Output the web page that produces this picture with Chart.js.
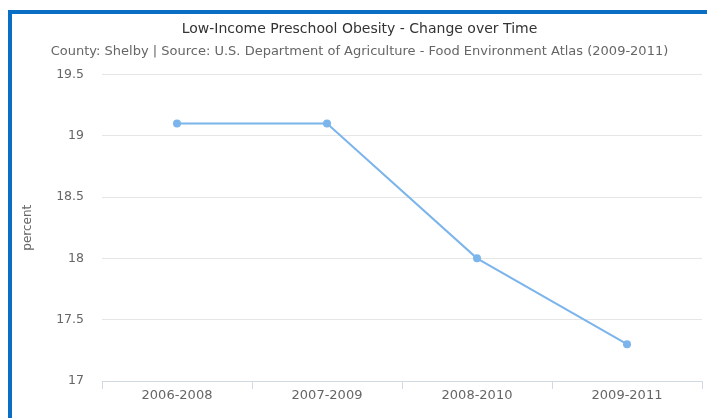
<!DOCTYPE html>
<html>
<head>
<meta charset="utf-8">
<script src="https://cdn.jsdelivr.net/npm/chart.js@4"></script>
<style>
  html, body { margin: 0; padding: 0; background: #ffffff; }
  body { width: 707px; height: 418px; position: relative; overflow: hidden; }
  #frame {
    position: absolute; left: 8px; top: 10px; width: 720px; height: 440px;
    border-left: 4px solid #0a6ec4; border-top: 4px solid #0a6ec4;
    box-sizing: border-box; pointer-events: none; z-index: 2;
  }
  #wrap { position: absolute; left: 0; top: 0; width: 707px; height: 418px; }
</style>
</head>
<body>
<div id="wrap"><canvas id="chart" width="707" height="418"></canvas></div>
<div id="frame"></div>
<script>
// Low-income preschool obesity rate by reporting period
const periods = ['2006-2008', '2007-2009', '2008-2010', '2009-2011'];
const obesityPercent = [19.1, 19.1, 18.0, 17.3];
const yTicks = [17, 17.5, 18, 18.5, 19, 19.5];

const FONT = '"DejaVu Sans", "Liberation Sans", sans-serif';

new Chart(document.getElementById('chart'), {
  type: 'line',
  data: {
    labels: periods,
    datasets: [{
      label: 'Low-Income Preschool Obesity',
      data: obesityPercent,
      borderColor: '#7cb5ec',
      backgroundColor: '#7cb5ec',
      borderWidth: 2,
      pointRadius: 4,
      pointHoverRadius: 5,
      pointBackgroundColor: '#7cb5ec',
      pointBorderWidth: 0,
      tension: 0,
      fill: false
    }]
  },
  options: {
    responsive: false,
    animation: false,
    layout: { padding: { left: 14, right: 2, top: 15, bottom: 0 } },
    plugins: {
      legend: { display: false },
      tooltip: { enabled: false },
      title: {
        display: true,
        text: 'Low-Income Preschool Obesity - Change over Time',
        color: '#333333',
        font: { family: FONT, size: 14, weight: 'normal' },
        padding: { top: 6, bottom: 5 }
      },
      subtitle: {
        display: true,
        text: 'County: Shelby | Source: U.S. Department of Agriculture - Food Environment Atlas (2009-2011)',
        color: '#666666',
        font: { family: FONT, size: 13, weight: 'normal' },
        padding: { top: 1, bottom: 15 }
      }
    },
    scales: {
      x: {
        type: 'category',
        offset: true,
        border: { display: true, color: '#d3d9e3', width: 1 },
        grid: {
          offset: true,
          drawOnChartArea: false,
          drawTicks: true,
          tickLength: 8,
          color: '#d3d9e3'
        },
        ticks: {
          color: '#666666',
          font: { family: FONT, size: 13 },
          padding: -1,
          maxRotation: 0
        },
        afterFit: (s) => { s.height = 37; }
      },
      y: {
        min: yTicks[0],
        max: yTicks[yTicks.length - 1],
        afterBuildTicks: (s) => { s.ticks = yTicks.map(v => ({ value: v })); },
        border: { display: false },
        grid: { color: '#e6e6e6', drawTicks: false, lineWidth: 1 },
        ticks: {
          color: '#666666',
          font: { family: FONT, size: 12.5 },
          padding: 18,
          callback: (v) => String(v)
        },
        title: {
          display: true,
          text: 'percent',
          color: '#666666',
          font: { family: FONT, size: 12 },
          padding: { top: 7, bottom: 4 }
        },
        afterFit: (s) => { s.width = 88; }
      }
    }
  }
});
</script>
</body>
</html>
